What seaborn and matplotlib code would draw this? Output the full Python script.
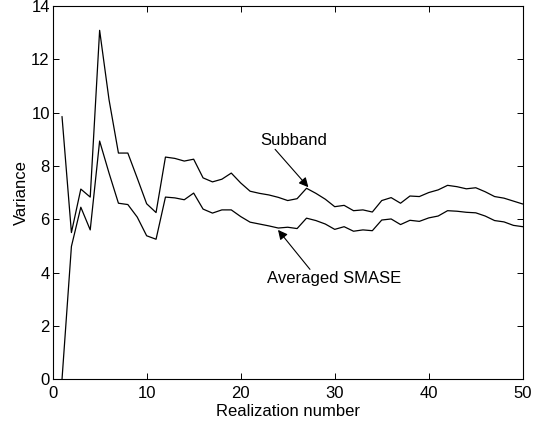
import numpy as np
import pandas as pd
import matplotlib
matplotlib.use('Agg')
import matplotlib.pyplot as plt
import seaborn as sns

realization = list(range(1, 51))
subband = [9.85, 5.50, 7.13, 6.83, 13.08, 10.48, 8.48, 8.48, 7.54, 6.58,
           6.25, 8.33, 8.28, 8.18, 8.25, 7.55, 7.40, 7.50, 7.73, 7.36,
           7.05, 6.97, 6.91, 6.82, 6.70, 6.77, 7.16, 6.97, 6.75, 6.47,
           6.52, 6.32, 6.35, 6.27, 6.70, 6.81, 6.60, 6.87, 6.85, 7.00,
           7.10, 7.27, 7.22, 7.14, 7.18, 7.03, 6.85, 6.79, 6.68, 6.57]
smase = [0.00, 4.98, 6.45, 5.60, 8.93, 7.73, 6.60, 6.55, 6.08, 5.38,
         5.25, 6.83, 6.80, 6.73, 6.98, 6.38, 6.23, 6.35, 6.35, 6.10,
         5.89, 5.82, 5.75, 5.67, 5.70, 5.65, 6.04, 5.95, 5.82, 5.62,
         5.72, 5.55, 5.60, 5.57, 5.97, 6.01, 5.80, 5.96, 5.92, 6.05,
         6.12, 6.32, 6.30, 6.26, 6.24, 6.12, 5.95, 5.90, 5.77, 5.72]

df = pd.DataFrame({'Realization': realization, 'Subband': subband,
                   'Averaged SMASE': smase})

sns.set_style('ticks')
plt.rcParams['font.family'] = ['Liberation Sans', 'DejaVu Sans']
plt.rcParams['xtick.direction'] = 'in'
plt.rcParams['ytick.direction'] = 'in'
plt.rcParams['text.color'] = 'k'
plt.rcParams['axes.labelcolor'] = 'k'
plt.rcParams['xtick.color'] = 'k'
plt.rcParams['ytick.color'] = 'k'

fs = 12
fig = plt.figure(figsize=(5.48, 4.23), dpi=100)
ax = fig.add_axes([0.096, 0.1033, 0.858, 0.883])

sns.lineplot(x='Realization', y='Subband', data=df, color='k', lw=0.9, ax=ax)
sns.lineplot(x='Realization', y='Averaged SMASE', data=df, color='k', lw=0.9, ax=ax)

ax.set_xlim(0, 50)
ax.set_ylim(0, 14)
ax.set_xticks(range(0, 51, 10))
ax.set_yticks(range(0, 15, 2))
ax.tick_params(top=True, right=True, labelsize=fs, length=4.5, width=0.7)
ax.tick_params(axis='x', pad=5)
ax.tick_params(axis='y', pad=2)
for s in ax.spines.values():
    s.set_linewidth(0.8)
    s.set_color('k')
ax.set_xlabel('Realization number', fontsize=fs, labelpad=2)
ax.set_ylabel('Variance', fontsize=fs, labelpad=2)

# labels and arrows
arrow = dict(arrowstyle='-|>', color='k', lw=0.8, shrinkA=0, shrinkB=0,
             mutation_scale=14)
ax.text(25.6, 8.95, 'Subband', fontsize=fs, ha='center', va='center')
ax.annotate('', xy=(27.2, 7.2), xytext=(23.66, 8.62), arrowprops=arrow)
ax.text(29.9, 3.79, 'Averaged SMASE', fontsize=fs, ha='center', va='center')
ax.annotate('', xy=(23.97, 5.6), xytext=(27.37, 4.12), arrowprops=arrow)

plt.savefig('out.png', dpi=100)
